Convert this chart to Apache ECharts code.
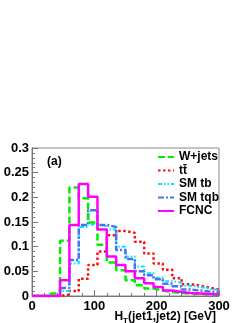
<!DOCTYPE html>
<html>
<head>
<meta charset="utf-8">
<script src="https://cdn.jsdelivr.net/npm/echarts@6/dist/echarts.min.js"></script>
<style>
html,body{margin:0;padding:0;background:#fff;}
#c{width:249px;height:323px;}
</style>
</head>
<body>
<div id="c"></div>
<script>
// Bin edges (GeV)
var binEdges = [0,15,30,45,60,75,90,105,120,135,150,165,180,195,210,225,240,255,270,285,300];
// Normalized histogram contents per bin
var wjets = [0,0,0.005,0.112,0.220,0.198,0.149,0.104,0.068,0.052,0.032,0.022,0.015,0.011,0.008,0.006,0.005,0.004,0.003,0.002];
var ttbar = [0,0,0,0.003,0.010,0.035,0.063,0.090,0.123,0.132,0.128,0.110,0.086,0.066,0.053,0.036,0.024,0.021,0.017,0.013];
var smtb  = [0,0,0,0.010,0.066,0.140,0.145,0.142,0.135,0.100,0.080,0.060,0.046,0.037,0.030,0.027,0.021,0.018,0.015,0.012];
var smtqb = [0,0,0,0.016,0.073,0.144,0.174,0.144,0.140,0.093,0.075,0.050,0.042,0.034,0.025,0.020,0.013,0.011,0.009,0.007];
var fcnc  = [0,0,0,0.032,0.144,0.227,0.201,0.135,0.080,0.063,0.050,0.036,0.026,0.018,0.011,0.008,0.006,0.005,0.004,0.003];
var names = ['W+jets','tt\u0304','SM tb','SM tqb','FCNC'];
var yTicks = [0,0.05,0.1,0.15,0.2,0.25,0.3];
var xTicks = [0,100,200,300];
var xTitle = '{b|H}{s|T}{b|(jet1,jet2) [GeV]}';

function hist(v){
  var d = [];
  for (var i=0;i<v.length;i++) d.push([binEdges[i], v[i]]);
  d.push([binEdges[binEdges.length-1], v[v.length-1]]);
  return d;
}
var font = '"Liberation Sans", Arial, sans-serif';
function mk(name, v, color, type, width, z){
  return {name:name, type:'line', step:'end', data:hist(v), symbol:'none',
    lineStyle:{color:color, type:type, width:width}, itemStyle:{color:color}, z:z, animation:false};
}
var chart = echarts.init(document.getElementById('c'), null, {renderer:'canvas'});
chart.setOption({
  backgroundColor:'#fff',
  animation:false,
  grid:{left:32, top:148, width:187, height:148, show:true, borderColor:'#888', borderWidth:1,
        backgroundColor:'transparent', containLabel:false, outerBoundsMode:'none'},
  xAxis:{type:'value', min:xTicks[0], max:xTicks[xTicks.length-1], interval:100,
    axisLine:{show:true, onZero:false, lineStyle:{color:'#777', width:1}},
    axisTick:{show:true, inside:true, length:6, lineStyle:{color:'#777'}},
    minorTick:{show:true, splitNumber:5, length:3, lineStyle:{color:'#777'}},
    splitLine:{show:false},
    axisLabel:{color:'#000', fontFamily:font, fontWeight:'bold', fontSize:13, margin:4, showMaxLabel:true, showMinLabel:true}
  },
  yAxis:{type:'value', min:yTicks[0], max:yTicks[yTicks.length-1], interval:0.05,
    axisLine:{show:true, lineStyle:{color:'#777', width:1}},
    axisTick:{show:true, inside:true, length:6, lineStyle:{color:'#777'}},
    minorTick:{show:true, splitNumber:5, length:3, lineStyle:{color:'#777'}},
    splitLine:{show:false},
    axisLabel:{color:'#000', fontFamily:font, fontWeight:'bold', fontSize:13, margin:3}
  },
  legend:{orient:'vertical', left:152, top:146, itemWidth:16, itemHeight:10, itemGap:1.5,
    itemStyle:{opacity:0},
    textStyle:{fontFamily:font, fontWeight:'bold', fontSize:12, color:'#000', lineHeight:12},
    data:names},
  graphic:[
    {type:'text', left:47, top:156, style:{text:'(a)', font:'bold 12px "Liberation Sans", Arial', fill:'#000'}},
    {type:'text', right:33, top:311, style:{text:xTitle, fill:'#000',
      rich:{b:{fontFamily:font, fontWeight:'bold', fontSize:12, fill:'#000', color:'#000'},
            s:{fontFamily:font, fontWeight:'bold', fontSize:8, fill:'#000', color:'#000', padding:[7,0,0,0]}}}}
  ],
  series:[
    mk(names[0], wjets, '#00ee00', [7,3], 2.5, 3),
    mk(names[1], ttbar, '#ff1010', [2.5,2.5], 2.5, 2),
    mk(names[2], smtb, '#00e8ff', [4,2,1.5,2,1.5,2], 2, 2),
    mk(names[3], smtqb, '#4a72f0', [6,2,2,2], 2.5, 2),
    mk(names[4], fcnc, '#ff00ff', 'solid', 2.5, 4)
  ]
});
</script>
</body>
</html>
